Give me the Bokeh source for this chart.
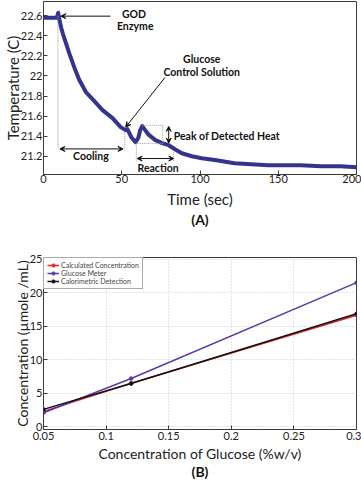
from bokeh.plotting import figure
from bokeh.layouts import column
from bokeh.models import (Range1d, Label, Arrow, VeeHead, FixedTicker,
                          NumeralTickFormatter, Title)
from bokeh.embed import file_html
from bokeh.resources import INLINE

# ---------------- data (A) ----------------
time_s = [0, 5, 8.5, 9.4, 10.3, 11.3, 12.4, 14.5, 16.6, 19.8, 22.9, 27.1, 32.5,
          37.7, 44.1, 49.3, 52.5, 53.6, 56.1, 58.8, 60.5, 61.8, 63.1, 65.0,
          67.5, 71.5, 75.8, 80.0, 84.0, 88.4, 94.8, 101.1, 110.6, 122.0,
          132.8, 143.4, 156.0, 164.5, 177.2, 189.9, 200]
temp_c = [22.58, 22.58, 22.58, 22.63, 22.55, 22.48, 22.42, 22.32, 22.22, 22.08,
          21.96, 21.84, 21.75, 21.66, 21.58, 21.49, 21.46, 21.47, 21.39, 21.34,
          21.38, 21.46, 21.50, 21.46, 21.41, 21.36, 21.33, 21.31, 21.27, 21.23,
          21.20, 21.18, 21.16, 21.13, 21.12, 21.11, 21.11, 21.11, 21.10, 21.10,
          21.09]
time_ticks = [0, 50, 100, 150, 200]
temp_ticks = [21.2, 21.4, 21.6, 21.8, 22.0, 22.2, 22.4, 22.6]

# ---------------- data (B) ----------------
glucose_pct = [0.05, 0.12, 0.30]
calc_conc = [2.3, 6.5, 16.65]
meter_conc = [2.1, 7.2, 21.5]
calor_conc = [2.6, 6.45, 16.85]
gl_ticks = [0.05, 0.1, 0.15, 0.2, 0.25, 0.3]
conc_ticks = [0, 5, 10, 15, 20, 25]

FONT = "Lato"
AX = "#3a3a3a"


def style(p, tick_so, label_so):
    p.outline_line_color = AX
    p.background_fill_color = "white"
    p.border_fill_color = "white"
    for ax in (p.xaxis[0], p.yaxis[0]):
        ax.axis_line_color = AX
        ax.major_tick_in = 4
        ax.major_tick_out = 0
        ax.minor_tick_line_color = None
        ax.major_tick_line_color = AX
        ax.major_label_text_font = FONT
        ax.major_label_text_font_size = "11px"
        ax.major_label_text_color = "#222222"
        ax.axis_label_text_font = FONT
        ax.axis_label_text_font_style = "normal"
        ax.axis_label_text_color = "#222222"
    p.xaxis.major_label_standoff = tick_so
    p.xaxis.axis_label_standoff = label_so
    p.yaxis.major_label_standoff = 1
    try:
        p.yaxis.axis_label_standoff = -4
    except Exception:
        p.yaxis.axis_label_standoff = 0


def caption(p, text, standoff):
    t = Title(text=text, align="center", text_font=FONT,
              text_font_style="bold", text_font_size="14px",
              text_color="#111111")
    try:
        t.standoff = standoff
    except Exception:
        t.standoff = 0
    p.add_layout(t, "below")


# ================= panel A =================
p1 = figure(width=361, height=232, output_backend="svg", toolbar_location=None,
            x_range=Range1d(0, 200), y_range=Range1d(21.018, 22.742),
            min_border_left=40, min_border_right=5, min_border_top=1,
            min_border_bottom=58)
style(p1, 0, 4)
p1.xgrid.visible = False
p1.ygrid.visible = False
p1.xaxis.ticker = FixedTicker(ticks=time_ticks)
p1.yaxis.ticker = FixedTicker(ticks=temp_ticks)
p1.yaxis.formatter = NumeralTickFormatter(format="0.[0]")
p1.xaxis.axis_label = "Time (sec)"
p1.yaxis.axis_label = "Temperature (C)"
p1.xaxis.axis_label_text_font_size = "15px"
p1.yaxis.axis_label_text_font_size = "15px"

p1.line(time_s, temp_c, line_color="#34348f", line_width=4, line_join="round")

bold = dict(text_font=FONT, text_font_style="bold", text_font_size="10.5px",
            text_color="#111111", text_baseline="middle")


def lab(p, x, y, t, align="center"):
    p.add_layout(Label(x=x, y=y, text=t, text_align=align, **bold))


def arr(p, x0, y0, x1, y1, start=False, end=True, dash="solid",
        color="#111111"):
    p.add_layout(Arrow(
        x_start=x0, y_start=y0, x_end=x1, y_end=y1,
        start=VeeHead(size=5, line_color=color, line_width=1) if start else None,
        end=VeeHead(size=5, line_color=color, line_width=1) if end else None,
        line_color=color, line_width=1, line_dash=dash))


lab(p1, 57.8, 22.62, "GOD")
lab(p1, 58.6, 22.50, "Enzyme")
arr(p1, 42.8, 22.596, 11.1, 22.596)

lab(p1, 101.1, 22.165, "Glucose")
lab(p1, 101.1, 22.04, "Control Solution")
arr(p1, 77.7, 21.986, 52.5, 21.49)

G = "#9a9a9a"
arr(p1, 9.2, 22.60, 9.2, 21.28, end=False, dash="1 1", color=G)
arr(p1, 51.9, 21.44, 51.9, 21.26, end=False, dash="1 1", color=G)
arr(p1, 10.5, 21.273, 50.8, 21.273, start=True)
lab(p1, 30.3, 21.203, "Cooling")

arr(p1, 59.3, 21.326, 59.3, 21.143, end=False, dash="1 1", color=G)
arr(p1, 83.2, 21.243, 83.2, 21.143, end=False, dash="1 1", color=G)
arr(p1, 59.9, 21.177, 83.2, 21.177, start=True)
lab(p1, 73.2, 21.078, "Reaction")

arr(p1, 63.1, 21.508, 76.2, 21.508, end=False, dash="1 1", color=G)
arr(p1, 76.2, 21.508, 76.2, 21.326, end=False, dash="1 1", color=G)
arr(p1, 59.3, 21.326, 76.2, 21.326, end=False, dash="1 1", color=G)
arr(p1, 80.0, 21.497, 80.0, 21.332, start=True)
lab(p1, 83.2, 21.399, "Peak of Detected Heat", align="left")

caption(p1, "(A)", -3)

# ================= panel B =================
p2 = figure(width=361, height=248, output_backend="svg", toolbar_location=None,
            x_range=Range1d(0.05, 0.30), y_range=Range1d(-0.4, 25.25),
            min_border_left=40, min_border_right=4, min_border_top=25,
            min_border_bottom=51)
style(p2, 2, 2)
p2.xaxis.ticker = FixedTicker(ticks=gl_ticks)
p2.yaxis.ticker = FixedTicker(ticks=conc_ticks)
p2.xaxis.formatter = NumeralTickFormatter(format="0.[00]")
p2.xaxis.axis_label = "Concentration of Glucose (%w/v)"
p2.yaxis.axis_label = "Concentration (\u00b5mole /mL)"
p2.xaxis.axis_label_text_font_size = "14px"
p2.yaxis.axis_label_text_font_size = "14px"
for g in (p2.xgrid[0], p2.ygrid[0]):
    g.grid_line_color = "#c8c8c8"
    g.grid_line_dash = "1 2"
    g.grid_line_width = 1

series = [("Calculated Concentration", calc_conc, "#e8262b"),
          ("Glucose Meter", meter_conc, "#5a3aa8"),
          ("Calorimetric Detection", calor_conc, "#111111")]
for name, ys, col in series:
    p2.line(glucose_pct, ys, line_color=col, line_width=1.5, legend_label=name)
    p2.scatter(glucose_pct, ys, marker="circle", size=3.5, color=col,
               legend_label=name)

lg = p2.legend[0]
lg.location = "top_left"
lg.margin = 0
lg.padding = 3
lg.spacing = 0
lg.label_text_font = FONT
lg.label_text_font_size = "7px"
lg.label_height = 8
lg.glyph_height = 8
lg.glyph_width = 12
lg.label_standoff = 2
lg.border_line_color = "#555555"
lg.border_line_width = 1
lg.background_fill_alpha = 1

caption(p2, "(B)", -8)

layout = column(p1, p2, spacing=0)
open("out.html", "w").write(file_html(layout, INLINE))
